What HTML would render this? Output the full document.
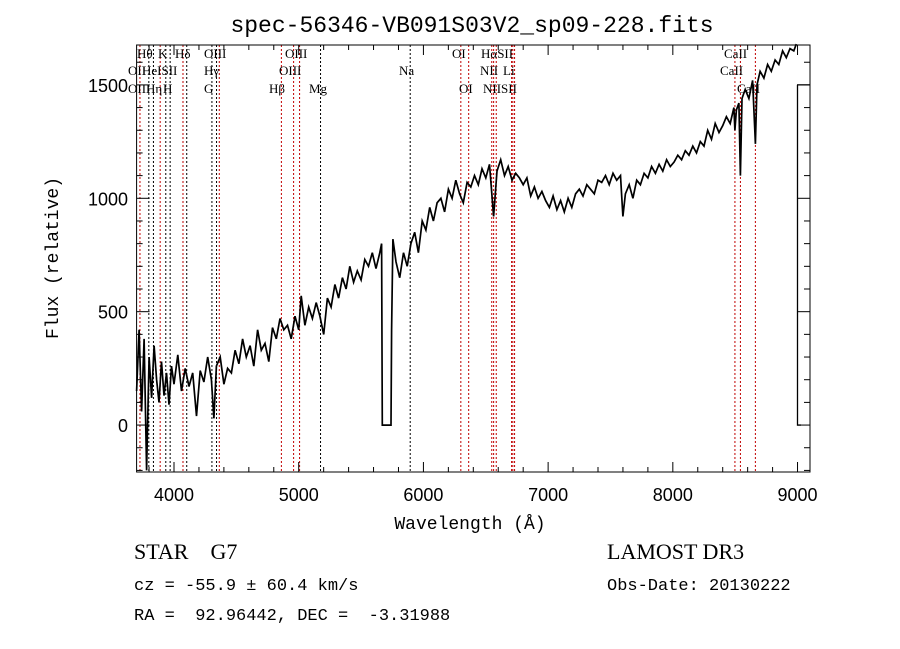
<!DOCTYPE html>
<html><head><meta charset="utf-8"><style>
html,body{margin:0;padding:0;background:#fff;}
svg{display:block;}
text{white-space:pre;}
</style></head><body>
<svg id="chart" width="900" height="649" xmlns="http://www.w3.org/2000/svg">
<rect width="900" height="649" fill="#fff"/>
<text x="472" y="32" text-anchor="middle" font-family="Liberation Mono, monospace" font-size="23">spec-56346-VB091S03V2_sp09-228.fits</text>
<text x="470" y="529" text-anchor="middle" font-family="Liberation Mono, monospace" font-size="18">Wavelength (Å)</text>
<text transform="translate(58,258) rotate(-90)" text-anchor="middle" font-family="Liberation Mono, monospace" font-size="18">Flux (relative)</text>
<text x="134" y="559" font-family="Liberation Serif, serif" font-size="22">STAR    G7</text>
<text x="607" y="559" font-family="Liberation Serif, serif" font-size="22">LAMOST DR3</text>
<text x="134" y="590" font-family="Liberation Mono, monospace" font-size="17">cz = -55.9 ± 60.4 km/s</text>
<text x="607" y="590" font-family="Liberation Mono, monospace" font-size="17">Obs-Date: 20130222</text>
<text x="134" y="620" font-family="Liberation Mono, monospace" font-size="17">RA =  92.96442, DEC =  -3.31988</text>
<g id="plot"></g>
</svg>
<script>
const waves=[3700,3720,3740,3760,3780,3800,3820,3840,3860,3880,3900,3920,3940,3960,3980,4000,4030,4060,4090,4120,4150,4180,4210,4240,4270,4300,4320,4340,4370,4400,4430,4460,4490,4520,4550,4580,4610,4640,4670,4700,4730,4760,4790,4820,4850,4880,4910,4940,4970,5000,5020,5050,5080,5110,5140,5170,5200,5230,5260,5290,5320,5350,5380,5410,5440,5470,5500,5530,5560,5590,5620,5650,5665,5670,5740,5745,5755,5780,5810,5840,5870,5900,5930,5960,5990,6020,6050,6080,6110,6140,6170,6200,6230,6260,6290,6320,6350,6380,6410,6440,6470,6500,6530,6563,6590,6620,6650,6680,6710,6740,6770,6800,6830,6860,6890,6920,6950,6980,7010,7040,7070,7100,7130,7160,7190,7220,7250,7280,7310,7340,7370,7400,7430,7460,7490,7520,7550,7580,7600,7620,7650,7680,7710,7740,7770,7800,7830,7860,7890,7920,7950,7980,8010,8040,8070,8100,8130,8160,8190,8220,8250,8280,8310,8340,8370,8400,8430,8460,8490,8498,8510,8530,8542,8555,8580,8610,8640,8662,8675,8700,8730,8760,8790,8820,8850,8880,8910,8940,8970,8990];
const flux=[150,420,60,380,-200,300,120,350,200,100,280,130,230,90,260,180,310,150,250,170,230,40,240,190,300,200,30,260,300,180,250,230,330,270,380,300,350,260,420,330,360,280,430,380,470,420,440,380,480,420,570,440,520,470,540,480,400,560,520,620,560,650,600,700,630,680,640,730,700,760,690,760,800,0,0,420,820,720,650,760,700,800,850,760,900,860,960,900,980,1000,940,1040,1000,1080,1020,980,1070,1050,1100,1060,1130,1090,1150,920,1120,1170,1100,1140,1080,1110,1090,1060,1090,1010,1050,1000,1030,990,960,1010,950,990,940,1000,960,1020,1040,1010,1060,1040,1020,1080,1070,1100,1060,1110,1080,1100,920,1020,1060,1000,1080,1060,1110,1090,1140,1110,1150,1120,1170,1140,1160,1190,1170,1210,1190,1230,1200,1250,1230,1300,1260,1330,1290,1320,1360,1330,1400,1300,1390,1420,1100,1440,1480,1440,1520,1240,1500,1560,1530,1590,1560,1610,1590,1650,1620,1660,1650,1680];
const xTicks=[4000,5000,6000,7000,8000,9000];
const yTicks=[0,500,1000,1500];
const lineWaves=[3727,3798,3835,3889,3934,3969,4072,4102,4304,4341,4363,4861,4959,5007,5175,5894,6300,6363,6548,6563,6584,6707,6717,6731,8498,8542,8662];
const lineRed=[1,0,0,1,0,0,1,0,0,0,1,1,1,1,0,0,1,1,1,1,1,1,1,1,1,1,1];
const labels=[["Hθ",137,58],["K",158,58],["Hδ",175,58],["OIII",204,58],["OIII",285,58],["OI",452,58],["HαSII",481,58],["CaII",724,58],
["OII",128,75],["HeISII",142,75],["Hγ",204,75],["OIII",279,75],["Na",399,75],["NII",480,75],["Li",503,75],["CaII",720,75],
["OIII",128,93],["Hη",146,93],["H",163,93],["G",204,93],["Hβ",269,93],["Mg",309,93],["OI",459,93],["NIISII",483,93],["CaII",737,93]];
const X0=136.6,X1=810,Y0=45,Y1=472,WMIN=3700,WMAX=9100,FMIN=-207,FMAX=1676;
function sx(w){return X0+(w-WMIN)/(WMAX-WMIN)*(X1-X0);}
function sy(f){return Y1-(f-FMIN)/(FMAX-FMIN)*(Y1-Y0);}
const NS='http://www.w3.org/2000/svg';
const g=document.getElementById('plot');
function mk(t,a){const e=document.createElementNS(NS,t);for(const k in a)e.setAttribute(k,a[k]);g.appendChild(e);return e;}
lineWaves.forEach((w,i)=>{
 const e=mk('line',{x1:sx(w),x2:sx(w),y1:Y0,y2:Y1,stroke:lineRed[i]?'#c00000':'#000','stroke-width':1,'stroke-dasharray':'2,2'});
 
 
});
labels.forEach(l=>{
 const e=mk('text',{x:l[1],y:l[2],'font-family':'Liberation Serif, serif','font-size':13});
 e.textContent=l[0];
 
 
});
let d='';
waves.forEach((w,i)=>{d+=(i?'L':'M')+sx(w).toFixed(1)+' '+sy(flux[i]).toFixed(1);});
const p=mk('path',{d:d,fill:'none',stroke:'#000','stroke-width':1.7});


const tail=mk('path',{d:'M797 '+sy(1500)+'L810 '+sy(1500)+'M797.5 '+sy(1500)+'L797.5 '+sy(0)+'L801 '+sy(0),fill:'none',stroke:'#000','stroke-width':1.3});


const fr=mk('rect',{x:X0,y:Y0,width:X1-X0,height:Y1-Y0,fill:'none',stroke:'#000','stroke-width':1});


for(let w=3800;w<=9100;w+=200){
 const major=w%1000===0,L=major?10:5;
 const t1=mk('line',{x1:sx(w),x2:sx(w),y1:Y1,y2:Y1-L,stroke:'#000'});
 
 
 const t2=mk('line',{x1:sx(w),x2:sx(w),y1:Y0,y2:Y0+L,stroke:'#000'});
 
 
}
for(let f=-200;f<=1600;f+=100){
 const major=f%500===0,L=major?13:6;
 const t1=mk('line',{x1:X0,x2:X0+L,y1:sy(f),y2:sy(f),stroke:'#000'});
 
 
 const t2=mk('line',{x1:X1,x2:X1-L,y1:sy(f),y2:sy(f),stroke:'#000'});
 
 
}
xTicks.forEach(w=>{
 const e=mk('text',{x:sx(w),y:501,'text-anchor':'middle','font-family':'Liberation Sans, sans-serif','font-size':18});
 e.textContent=w;
 
 
});
yTicks.forEach(f=>{
 const e=mk('text',{x:128,y:sy(f)+7,'text-anchor':'end','font-family':'Liberation Sans, sans-serif','font-size':18});
 e.textContent=f;
 
 
});
</script>
</body></html>
